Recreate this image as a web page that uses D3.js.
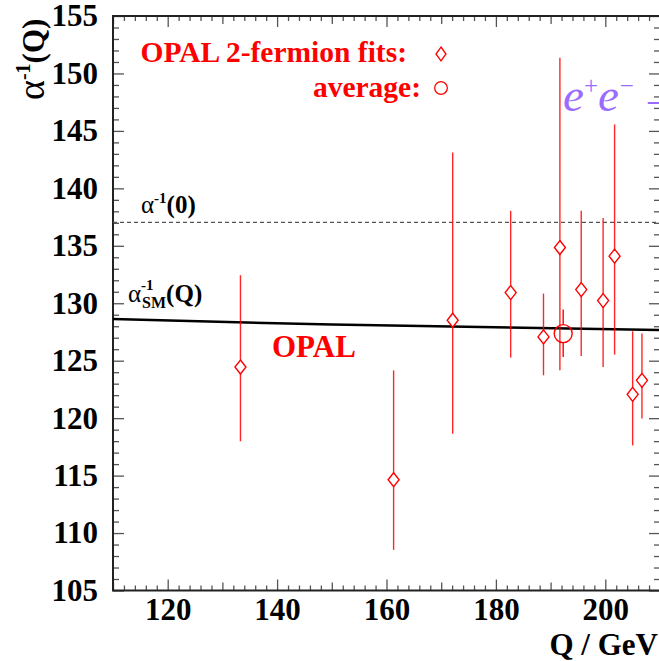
<!DOCTYPE html>
<html>
<head>
<meta charset="utf-8">
<script src="https://cdn.jsdelivr.net/npm/d3@7"></script>
<style>
  body { margin: 0; background: #fff; }
</style>
</head>
<body>
<svg id="chart"></svg>
<script>
// OPAL 2-fermion fits of the running alpha
const energies  = [133.3, 161.3, 172.1, 182.7, 188.7, 191.7, 195.6, 199.6, 201.7, 205.0, 206.7]
const alphaInv  = [124.45, 114.64, 128.52, 130.93, 127.07, 134.85, 131.19, 130.23, 134.10, 122.07, 123.29]
const errUp     = [7.99, 9.52, 14.61, 7.11, 3.77, 16.52, 6.85, 7.20, 11.46, 5.49, 4.07]
const errDown   = [6.47, 6.10, 9.87, 5.66, 3.34, 10.69, 5.78, 5.78, 8.57, 4.44, 3.33]

const avgEnergy = 192.3, avgValue = 127.36, avgUp = 2.09, avgDown = 2.03

// Standard Model curve
const smQ     = [110, 150, 210]
const smAlpha = [128.62, 128.14, 127.66]
const alpha0  = 137.036

const xMajor = [120, 140, 160, 180, 200]
const yMajor = [105, 110, 115, 120, 125, 130, 135, 140, 145, 150, 155]

const SERIF = '"Liberation Serif", "Times New Roman", serif'

function AlphaPlot(id, width = 659, height = 661){

    const frame = {left: 113, right: 660, top: 16, bottom: 590.5}

    const svg = d3.select(`#${id}`)
                  .attr("width", width)
                  .attr("height", height)
                  .style("font-family", SERIF)

    svg.append("rect").attr("width", width).attr("height", height).attr("fill", "#fff")

    const x = d3.scaleLinear().domain([110, 210]).range([frame.left, frame.right]),
          y = d3.scaleLinear().domain([105, 155]).range([frame.bottom, frame.top])

    const tickColor = "#555"
    const xMedium = d3.range(110, 211, 10).filter(d => !xMajor.includes(d)),
          xMinor = d3.range(110, 211, 2).filter(d => d % 10 !== 0),
          yMinor = d3.range(105, 156, 1).filter(d => d % 5 !== 0)

    function styleAxis(g){
        g.attr("font-family", null).attr("font-size", null)
        g.select(".domain").remove()
        g.selectAll(".tick line").attr("stroke", tickColor).attr("stroke-width", 1.3)
        g.selectAll(".tick text")
         .attr("fill", "#000")
         .style("font-family", SERIF)
         .attr("font-weight", "bold")
         .attr("font-size", 31)
    }

    function axisSet(axisFn, pos, scale, ticks, withLabels, padding){
        const g = svg.append("g").attr("transform", pos)
        ticks.forEach(([vals, len], i) => {
            let a = axisFn(scale).tickValues(vals).tickSizeInner(-len).tickSizeOuter(0)
            if (withLabels && i === 0) a = a.tickPadding(padding).tickFormat(d3.format("d"))
            else a = a.tickFormat("")
            g.append("g").call(a).call(styleAxis)
        })
    }

    axisSet(d3.axisBottom, `translate(0,${frame.bottom})`, x, [[xMajor, 11], [xMedium, 8], [xMinor, 5]], true, 7)
    axisSet(d3.axisTop, `translate(0,${frame.top})`, x, [[xMajor, 11], [xMedium, 8], [xMinor, 5]], false)
    axisSet(d3.axisLeft, `translate(${frame.left},0)`, y, [[yMajor, 11], [yMinor, 6]], true, 15)
    axisSet(d3.axisRight, `translate(${frame.right},0)`, y, [[yMajor, 11], [yMinor, 6]], false)

    // frame
    svg.append("path")
       .attr("d", `M${frame.right},${frame.top}H${frame.left}V${frame.bottom}H${frame.right}`)
       .attr("fill", "none").attr("stroke", "#222").attr("stroke-width", 2)

    // alpha(0) dashed line
    svg.append("line")
       .attr("x1", x(110)).attr("x2", x(210))
       .attr("y1", y(alpha0)).attr("y2", y(alpha0))
       .attr("stroke", "#555").attr("stroke-width", 1.3).attr("stroke-dasharray", "4,3")

    // SM running alpha
    const line = d3.line().x((d, i) => x(smQ[i])).y(d => y(d)).curve(d3.curveNatural)
    svg.append("path").datum(smAlpha)
       .attr("d", line)
       .attr("fill", "none").attr("stroke", "#000").attr("stroke-width", 2.5)

    const red = "#ff0000"
    const pts = energies.map((q, i) => ({q, v: alphaInv[i], up: errUp[i], dn: errDown[i]}))

    // error bars
    svg.append("g").selectAll("line").data(pts).join("line")
       .attr("x1", d => x(d.q)).attr("x2", d => x(d.q))
       .attr("y1", d => y(d.v + d.up)).attr("y2", d => y(d.v - d.dn))
       .attr("stroke", red).attr("stroke-width", 1.4).attr("stroke-opacity", 0.85)

    // average
    const r = 9
    svg.append("line")
       .attr("x1", x(avgEnergy)).attr("x2", x(avgEnergy))
       .attr("y1", y(avgValue + avgUp)).attr("y2", y(avgValue) - r)
       .attr("stroke", red).attr("stroke-width", 1.4)
    svg.append("line")
       .attr("x1", x(avgEnergy)).attr("x2", x(avgEnergy))
       .attr("y1", y(avgValue) + r).attr("y2", y(avgValue - avgDown))
       .attr("stroke", red).attr("stroke-width", 1.4)
    svg.append("circle")
       .attr("cx", x(avgEnergy)).attr("cy", y(avgValue)).attr("r", r)
       .attr("fill", "none").attr("stroke", red).attr("stroke-width", 1.4)

    // diamonds
    const dw = 5.5, dh = 7
    const diamond = `M0,${-dh}L${dw},0L0,${dh}L${-dw},0Z`
    svg.append("g").selectAll("path").data(pts).join("path")
       .attr("transform", d => `translate(${x(d.q)},${y(d.v)})`)
       .attr("d", diamond)
       .attr("fill", "#fff").attr("stroke", red).attr("stroke-width", 1.4)

    // legend
    svg.append("text").attr("x", 407).attr("y", 62).attr("text-anchor", "end")
       .attr("fill", red).attr("font-weight", "bold").attr("font-size", 29.5)
       .text("OPAL 2-fermion fits:")
    svg.append("path").attr("transform", "translate(441,54)")
       .attr("d", `M0,-7L5,0L0,7L-5,0Z`)
       .attr("fill", "#fff").attr("stroke", red).attr("stroke-width", 1.3)
    svg.append("text").attr("x", 421).attr("y", 97).attr("text-anchor", "end")
       .attr("fill", red).attr("font-weight", "bold").attr("font-size", 29.5)
       .text("average:")
    svg.append("circle").attr("cx", 441).attr("cy", 88).attr("r", 6.3)
       .attr("fill", "none").attr("stroke", red).attr("stroke-width", 1.3)

    // process label (runs off the right edge as in the original)
    const ee = svg.append("text").attr("x", 563).attr("y", 111)
       .attr("fill", "#9a6bff").attr("font-style", "italic").attr("font-size", 47)
    ee.append("tspan").text("e")
    ee.append("tspan").attr("dy", -17).attr("font-size", 25).attr("font-style", "normal").text("+")
    ee.append("tspan").attr("dy", 17).text("e")
    ee.append("tspan").attr("dy", -17).attr("dx", 1).attr("font-size", 25).attr("font-style", "normal").text("\u2212")
    ee.append("tspan").attr("dy", 17).attr("dx", 4).attr("font-style", "normal").text("\u2192")

    // OPAL tag
    svg.append("text").attr("x", 272).attr("y", 357)
       .attr("fill", red).attr("font-weight", "bold").attr("font-size", 31)
       .text("OPAL")

    // alpha^-1(0)
    const a0 = svg.append("text").attr("x", 141).attr("y", 213).attr("fill", "#000").attr("font-size", 25)
    a0.append("tspan").text("\u03b1")
    a0.append("tspan").attr("dy", -10).attr("font-size", 15).attr("font-weight", "bold").text("-1")
    a0.append("tspan").attr("dy", 10).attr("font-weight", "bold").text("(0)")

    // alpha^-1_SM(Q)
    const aSM = svg.append("text").attr("x", 128).attr("y", 302).attr("fill", "#000").attr("font-size", 25)
    const alphaSpan = aSM.append("tspan").text("\u03b1")
    const supX = 128 + alphaSpan.node().getComputedTextLength() + 1
    aSM.append("tspan").attr("dy", -12).attr("font-size", 15).attr("font-weight", "bold").text("-1")
    aSM.append("tspan").attr("x", supX).attr("dy", 18).attr("font-size", 16).attr("font-weight", "bold").text("SM")
    aSM.append("tspan").attr("dy", -6).attr("font-weight", "bold").text("(Q)")

    // axis titles
    const yt = svg.append("text")
       .attr("transform", "translate(44,100) rotate(-90)")
       .attr("fill", "#000").attr("font-size", 31).attr("font-weight", "bold")
    yt.append("tspan").attr("font-weight", "normal").attr("font-size", 38).text("\u03b1")
    yt.append("tspan").attr("dy", -14).attr("font-size", 20).text("-1")
    yt.append("tspan").attr("dy", 14).text("(Q)")

    svg.append("text").attr("x", 658).attr("y", 655).attr("text-anchor", "end")
       .attr("fill", "#000").attr("font-size", 31).attr("font-weight", "bold")
       .text("Q / GeV")
}

AlphaPlot("chart")
</script>
</body>
</html>
